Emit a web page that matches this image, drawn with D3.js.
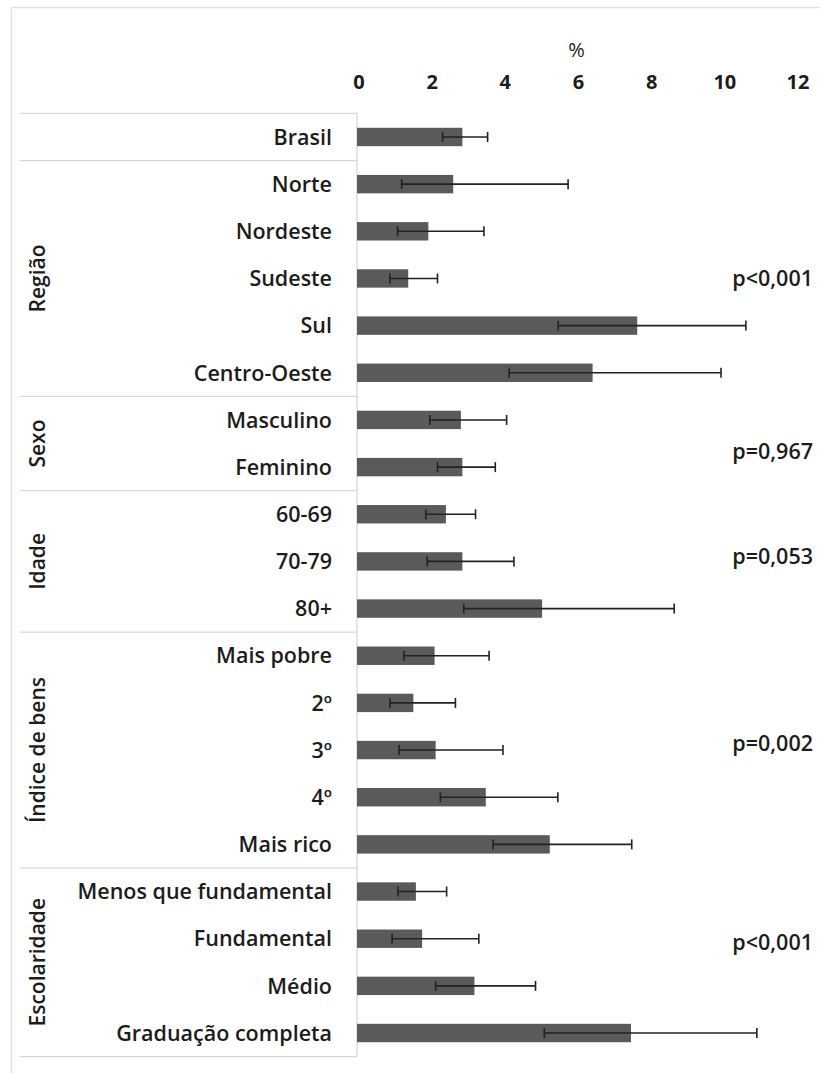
<!DOCTYPE html>
<html>
<head>
<meta charset="utf-8">
<script src="https://cdn.jsdelivr.net/npm/d3@7"></script>
<style>
  html, body { margin: 0; padding: 0; background: #fff; }
  svg { display: block; }
  text { font-family: "Open Sans", "Noto Sans", sans-serif; fill: #1c1c1c; }
</style>
</head>
<body>
<svg id="chart" width="820" height="1073"></svg>
<script>
// Prevalence (%) with 95% confidence intervals, by subgroup
const categories = [
  "Brasil",
  "Norte", "Nordeste", "Sudeste", "Sul", "Centro-Oeste",
  "Masculino", "Feminino",
  "60-69", "70-79", "80+",
  "Mais pobre", "2º", "3º", "4º", "Mais rico",
  "Menos que fundamental", "Fundamental", "Médio", "Graduação completa"
];
const prevalence = [
  2.88,
  2.63, 1.95, 1.40, 7.66, 6.44,
  2.84, 2.88,
  2.43, 2.88, 5.06,
  2.12, 1.54, 2.15, 3.52, 5.27,
  1.61, 1.78, 3.21, 7.49
];
const ciLower = [
  2.34,
  1.22, 1.11, 0.90, 5.50, 4.16,
  1.99, 2.20,
  1.88, 1.92, 2.92,
  1.28, 0.90, 1.15, 2.28, 3.72,
  1.12, 0.96, 2.15, 5.12
];
const ciUpper = [
  3.57,
  5.77, 3.47, 2.20, 10.63, 9.95,
  4.09, 3.78,
  3.24, 4.29, 8.67,
  3.61, 2.69, 3.99, 5.49, 7.51,
  2.45, 3.33, 4.88, 10.93
];
const xTicks = [0, 2, 4, 6, 8, 10, 12];

// Grouping of the rows (first/last category of each block)
const groupNames = ["Região", "Sexo", "Idade", "Índice de bens", "Escolaridade"];
const groupFirst = ["Norte", "Masculino", "60-69", "Mais pobre", "Menos que fundamental"];
const groupLast  = ["Centro-Oeste", "Feminino", "80+", "Mais rico", "Graduação completa"];
const pValues = ["p<0,001", "p=0,967", "p=0,053", "p=0,002", "p<0,001"];
// Vertical placement of each p-value, in row units
const pRowPos = [3.0, 6.67, 8.9, 12.85, 17.07];

const svg = d3.select("#chart");
const W = 820, H = 1073;

const x = d3.scaleLinear().domain([0, 12]).range([357, 796]);
const y = d3.scaleBand().domain(categories)
  .range([113.4, 1056.6])
  .paddingInner(0.61).paddingOuter(0.305);
const step = y.step();
const bandStart = 113.4;
const rowEdge = i => bandStart + i * step;

// Outer frame
svg.append("path")
  .attr("d", `M11.5,${H} V7.5 H${W}`)
  .attr("fill", "none").attr("stroke", "#e3e3e3").attr("stroke-width", 1.5);

// Table lines on the category side
const sepRows = [0, 1, 6, 8, 11, 16, 20];
svg.append("g").selectAll("line").data(sepRows).join("line")
  .attr("x1", 20).attr("x2", x(0))
  .attr("y1", d => rowEdge(d)).attr("y2", d => rowEdge(d))
  .attr("stroke", "#d9d9d9").attr("stroke-width", 1.2);

// Vertical category axis line
svg.append("line")
  .attr("x1", x(0)).attr("x2", x(0))
  .attr("y1", rowEdge(0)).attr("y2", rowEdge(20))
  .attr("stroke", "#d4d4d4").attr("stroke-width", 1.2);

// Top value axis
const xAxis = d3.axisTop(x).tickValues(xTicks).tickSize(0).tickPadding(0)
  .tickFormat(d3.format("d"));
const gx = svg.append("g").attr("transform", "translate(1.5,89)").call(xAxis);
gx.select(".domain").remove();
gx.selectAll("text")
  .attr("dy", 0)
  .style("font-family", "'Open Sans', sans-serif")
  .style("font-size", "20px").style("font-weight", 700)
  .attr("fill", "#1c1c1c");

svg.append("text")
  .attr("x", x(6)).attr("y", 57)
  .attr("text-anchor", "middle")
  .style("font-size", "20px").style("font-weight", 400)
  .text("%");

// Category labels
svg.append("g").selectAll("text").data(categories).join("text")
  .attr("x", 332)
  .attr("y", d => y(d) + y.bandwidth() / 2)
  .attr("dy", "0.36em")
  .attr("text-anchor", "end")
  .style("font-size", "21.5px").style("font-weight", 600)
  .text(d => d);

// Group labels (rotated)
svg.append("g").selectAll("text").data(groupNames).join("text")
  .attr("transform", (d, i) => {
    const cy = (y(groupFirst[i]) + y(groupLast[i]) + y.bandwidth()) / 2;
    return `translate(37,${cy}) rotate(-90)`;
  })
  .attr("dy", "0.36em")
  .attr("text-anchor", "middle")
  .style("font-size", "21px").style("font-weight", 600)
  .text(d => d);

// Bars
svg.append("g").selectAll("rect").data(categories).join("rect")
  .attr("x", x(0))
  .attr("y", d => y(d))
  .attr("width", (d, i) => x(prevalence[i]) - x(0))
  .attr("height", y.bandwidth())
  .attr("fill", "#5a5a5a");

// Error bars
const eb = svg.append("g").attr("stroke", "#222").attr("stroke-width", 1.6);
categories.forEach((c, i) => {
  const cy = y(c) + y.bandwidth() / 2;
  eb.append("line").attr("x1", x(ciLower[i])).attr("x2", x(ciUpper[i]))
    .attr("y1", cy).attr("y2", cy);
  [ciLower[i], ciUpper[i]].forEach(v => {
    eb.append("line").attr("x1", x(v)).attr("x2", x(v))
      .attr("y1", cy - 5).attr("y2", cy + 5);
  });
});

// p-values
svg.append("g").selectAll("text").data(pValues).join("text")
  .attr("x", 813)
  .attr("y", (d, i) => y(categories[0]) + y.bandwidth() / 2 + pRowPos[i] * step)
  .attr("dy", "0.36em")
  .attr("text-anchor", "end")
  .style("font-size", "21.5px").style("font-weight", 600)
  .text(d => d);
</script>
</body>
</html>
